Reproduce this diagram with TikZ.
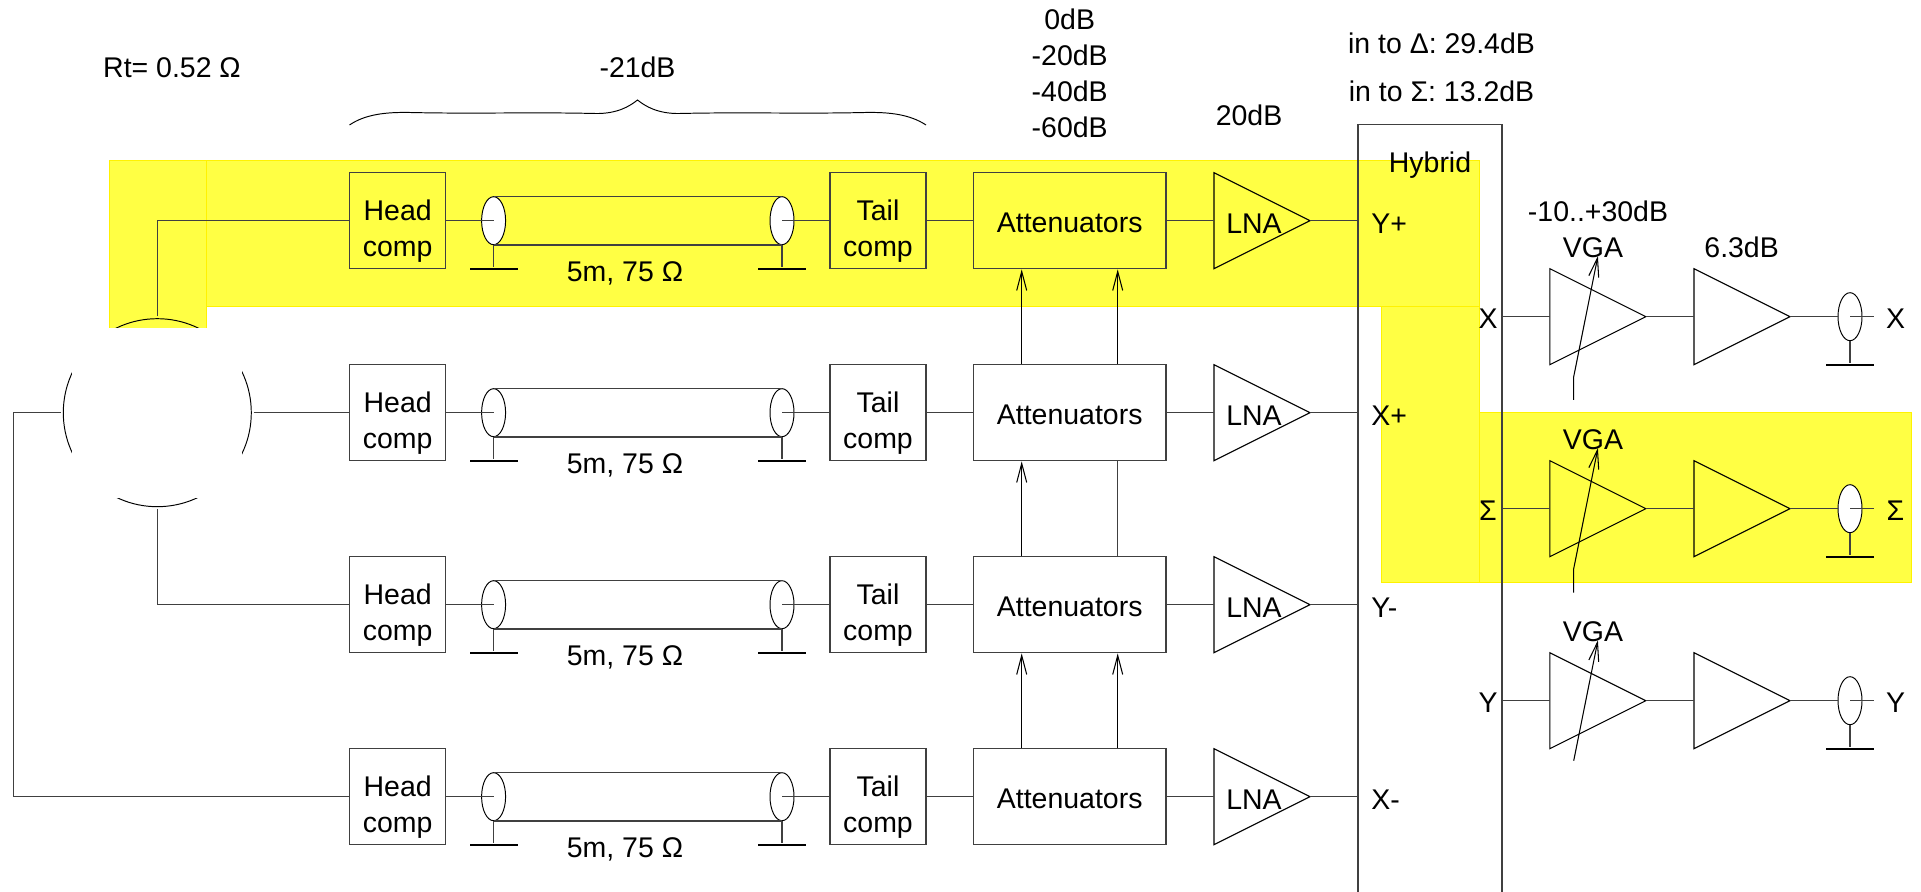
\documentclass[tikz,border=0pt]{standalone}
\usepackage{fontspec}
\setmainfont{Liberation Sans}
\usetikzlibrary{arrows.meta, shapes.geometric}
\definecolor{hlYellow}{HTML}{FFFF44}
\colorlet{lineGray}{black!75}
\tikzset{
    hlArea/.style={fill=hlYellow, draw=yellow, line width=0.2pt},
    wire/.style={draw=lineGray, line width=0.8pt},
    box/.style={
        draw=lineGray, line width=0.8pt, inner sep=0pt,
        minimum width=1.92cm, minimum height=1.92cm,
        font=\fontsize{16.2}{20.5}\selectfont
    },
    compBox/.style={box, align=center, text height=41pt, text depth=0pt},
    attBox/.style={box, minimum width=3.85cm, text height=13.2pt, text depth=0pt},
    amp/.style={
        draw, line width=0.6pt, inner sep=0pt, outer sep=0pt,
        isosceles triangle, isosceles triangle stretches,
        minimum width=1.92cm, minimum height=1.92cm
    },
    coaxEnd/.style={
        ellipse, draw, fill=white, line width=0.55pt, inner sep=0pt,
        minimum width=0.48cm, minimum height=0.96cm
    },
    gnd/.style={fill=black, inner sep=0pt, minimum width=0.96cm, minimum height=0.045cm},
    lab/.style={
        font=\fontsize{16.2}{20.5}\selectfont,
        inner sep=0pt, text height=11.6pt, text depth=0pt
    },
    arr/.style={-{Straight Barb[length=0.38cm, width=0.2cm]}, line width=0.6pt}
}
\begin{document}
\begin{tikzpicture}

\useasboundingbox (0, 0) rectangle (38.42, 17.84);

% ===== YELLOW HIGHLIGHT =====
\fill[hlArea] (2.18, 14.64) rectangle (4.12, 11.28);
\fill[hlArea] (4.12, 14.64) rectangle (29.58, 11.726);
\fill[hlArea] (27.63, 11.726) rectangle (29.58, 6.204);
\fill[hlArea] (29.58, 9.594) rectangle (38.22, 6.204);

% ===== TOP LABELS =====
\node[lab] (rtval) at (3.44, 16.5) {Rt= 0.52 Ω};
\node[lab] (lossval) at (12.75, 16.5) {-21dB};
\node[lab] (att0) at (21.394, 17.46) {0dB};
\node[lab] (att20) at (21.394, 16.74) {-20dB};
\node[lab] (att40) at (21.394, 16.02) {-40dB};
\node[lab] (att60) at (21.394, 15.3) {-60dB};
\node[lab] (lnagain) at (24.98, 15.54) {20dB};
\node[lab] (indelta) at (28.83, 16.98) {in to Δ: 29.4dB};
\node[lab] (insigma) at (28.83, 16.02) {in to Σ: 13.2dB};

% brace over the cable
\draw[line width=0.55pt] (6.99, 15.34)
  .. controls (7.3, 15.55) and (7.7, 15.6) .. (8.2, 15.59)
  .. controls (9.5, 15.56) and (10.6, 15.6) .. (11.9, 15.57)
  .. controls (12.35, 15.56) and (12.6, 15.72) .. (12.75, 15.84)
  .. controls (12.9, 15.72) and (13.15, 15.56) .. (13.6, 15.57)
  .. controls (14.9, 15.6) and (16.0, 15.56) .. (17.3, 15.59)
  .. controls (17.8, 15.6) and (18.2, 15.55) .. (18.52, 15.34);

% ===== SPLITTER =====
\node[circle, draw, line width=0.55pt, inner sep=0pt, minimum size=3.76cm] (rt) at (3.146, 9.586) {};
\node[fill=white, inner sep=0pt, minimum size=3.4cm] (rtmask) at (3.146, 9.58) {};
\coordinate (rtleft) at (0.266, 9.586);

% ===== ROW 1: Y+ =====
\node[compBox] (head1) at (7.954, 13.426) {Head\\comp};
\node[coaxEnd] (coaxl1) at (9.872, 13.426) {};
\node[coaxEnd] (coaxr1) at (15.64, 13.426) {};
\node[gnd] (gndl1) at (9.872, 12.466) {};
\node[gnd] (gndr1) at (15.64, 12.466) {};
\node[lab] (cable1) at (12.5, 12.42) {5m, 75 Ω};
\node[compBox] (tail1) at (17.56, 13.426) {Tail\\comp};
\node[attBox] (att1) at (21.394, 13.426) {Attenuators};
\node[amp, anchor=apex] (lna1) at (26.2, 13.426) {};
\node[lab] (lnalab1) at (25.08, 13.38) {LNA};
\node[lab, anchor=west] (port1) at (27.42, 13.38) {Y+};

% ===== ROW 2: X+ =====
\node[compBox] (head2) at (7.954, 9.586) {Head\\comp};
\node[coaxEnd] (coaxl2) at (9.872, 9.586) {};
\node[coaxEnd] (coaxr2) at (15.64, 9.586) {};
\node[gnd] (gndl2) at (9.872, 8.626) {};
\node[gnd] (gndr2) at (15.64, 8.626) {};
\node[lab] (cable2) at (12.5, 8.58) {5m, 75 Ω};
\node[compBox] (tail2) at (17.56, 9.586) {Tail\\comp};
\node[attBox] (att2) at (21.394, 9.586) {Attenuators};
\node[amp, anchor=apex] (lna2) at (26.2, 9.586) {};
\node[lab] (lnalab2) at (25.08, 9.54) {LNA};
\node[lab, anchor=west] (port2) at (27.42, 9.54) {X+};

% ===== ROW 3: Y- =====
\node[compBox] (head3) at (7.954, 5.746) {Head\\comp};
\node[coaxEnd] (coaxl3) at (9.872, 5.746) {};
\node[coaxEnd] (coaxr3) at (15.64, 5.746) {};
\node[gnd] (gndl3) at (9.872, 4.786) {};
\node[gnd] (gndr3) at (15.64, 4.786) {};
\node[lab] (cable3) at (12.5, 4.74) {5m, 75 Ω};
\node[compBox] (tail3) at (17.56, 5.746) {Tail\\comp};
\node[attBox] (att3) at (21.394, 5.746) {Attenuators};
\node[amp, anchor=apex] (lna3) at (26.2, 5.746) {};
\node[lab] (lnalab3) at (25.08, 5.7) {LNA};
\node[lab, anchor=west] (port3) at (27.42, 5.7) {Y-};

% ===== ROW 4: X- =====
\node[compBox] (head4) at (7.954, 1.906) {Head\\comp};
\node[coaxEnd] (coaxl4) at (9.872, 1.906) {};
\node[coaxEnd] (coaxr4) at (15.64, 1.906) {};
\node[gnd] (gndl4) at (9.872, 0.946) {};
\node[gnd] (gndr4) at (15.64, 0.946) {};
\node[lab] (cable4) at (12.5, 0.9) {5m, 75 Ω};
\node[compBox] (tail4) at (17.56, 1.906) {Tail\\comp};
\node[attBox] (att4) at (21.394, 1.906) {Attenuators};
\node[amp, anchor=apex] (lna4) at (26.2, 1.906) {};
\node[lab] (lnalab4) at (25.08, 1.86) {LNA};
\node[lab, anchor=west] (port4) at (27.42, 1.86) {X-};

% hybrid runs off the bottom of the page
\node[draw=lineGray, line width=0.8pt, minimum width=2.874cm, minimum height=15.55cm] (hyb) at (28.6, 7.573) {};
\node[lab] (hyblab) at (28.6, 14.59) {Hybrid};

% connectors, left part
\draw[wire, shorten <=1pt] (rt.north) |- (head1.west);
\draw[wire, shorten <=1pt] (rt.east) -- (head2.west);
\draw[wire, shorten <=1pt] (rt.south) |- (head3.west);
\draw[wire, shorten <=1pt] (rt.west) -- (rtleft) |- (head4.west);

\draw[wire] (head1.east) -- (coaxl1.center);
\draw[wire] (coaxl1.north) -- (coaxr1.north);
\draw[wire] (coaxl1.south) -- (coaxr1.south);
\draw[wire] (coaxr1.center) -- (tail1.west);
\draw[wire] (coaxl1.south) -- (gndl1);
\draw[wire] (coaxr1.south) -- (gndr1);
\draw[wire] (tail1) -- (att1);
\draw[wire] (att1) -- (lna1.lower side);
\draw[wire] (lna1.apex) -- (lna1.apex -| hyb.west);

\draw[wire] (head2.east) -- (coaxl2.center);
\draw[wire] (coaxl2.north) -- (coaxr2.north);
\draw[wire] (coaxl2.south) -- (coaxr2.south);
\draw[wire] (coaxr2.center) -- (tail2.west);
\draw[wire] (coaxl2.south) -- (gndl2);
\draw[wire] (coaxr2.south) -- (gndr2);
\draw[wire] (tail2) -- (att2);
\draw[wire] (att2) -- (lna2.lower side);
\draw[wire] (lna2.apex) -- (lna2.apex -| hyb.west);

\draw[wire] (head3.east) -- (coaxl3.center);
\draw[wire] (coaxl3.north) -- (coaxr3.north);
\draw[wire] (coaxl3.south) -- (coaxr3.south);
\draw[wire] (coaxr3.center) -- (tail3.west);
\draw[wire] (coaxl3.south) -- (gndl3);
\draw[wire] (coaxr3.south) -- (gndr3);
\draw[wire] (tail3) -- (att3);
\draw[wire] (att3) -- (lna3.lower side);
\draw[wire] (lna3.apex) -- (lna3.apex -| hyb.west);

\draw[wire] (head4.east) -- (coaxl4.center);
\draw[wire] (coaxl4.north) -- (coaxr4.north);
\draw[wire] (coaxl4.south) -- (coaxr4.south);
\draw[wire] (coaxr4.center) -- (tail4.west);
\draw[wire] (coaxl4.south) -- (gndl4);
\draw[wire] (coaxr4.south) -- (gndr4);
\draw[wire] (tail4) -- (att4);
\draw[wire] (att4) -- (lna4.lower side);
\draw[wire] (lna4.apex) -- (lna4.apex -| hyb.west);

% attenuator controls
\draw[arr] ([xshift=-0.96cm]att2.north) -- ([xshift=-0.96cm]att1.south);
\draw[arr] ([xshift=0.96cm]att2.north) -- ([xshift=0.96cm]att1.south);
\draw[arr] ([xshift=-0.96cm]att3.north) -- ([xshift=-0.96cm]att2.south);
\draw[wire] ([xshift=0.96cm]att3.north) -- ([xshift=0.96cm]att2.south);
\draw[arr] ([xshift=-0.96cm]att4.north) -- ([xshift=-0.96cm]att3.south);
\draw[arr] ([xshift=0.96cm]att4.north) -- ([xshift=0.96cm]att3.south);

% ===== RIGHT: output chains =====
\node[lab] (gainrange) at (31.96, 13.62) {-10..+30dB};
\node[lab] (gainfix) at (34.832, 12.886) {6.3dB};

\node[lab] (inX) at (29.76, 11.466) {X};
\node[amp, anchor=apex] (vga1) at (32.916, 11.506) {};
\node[lab] (vgalab1) at (31.86, 12.886) {VGA};
\node[amp, anchor=apex] (drv1) at (35.8, 11.506) {};
\node[coaxEnd] (out1) at (37.0, 11.506) {};
\node[gnd] (gndo1) at (37.0, 10.546) {};
\coordinate (stub1) at (37.48, 11.506);
\node[lab] (outX) at (37.91, 11.466) {X};

\node[lab] (inS) at (29.76, 7.626) {Σ};
\node[amp, anchor=apex] (vga2) at (32.916, 7.666) {};
\node[lab] (vgalab2) at (31.86, 9.054) {VGA};
\node[amp, anchor=apex] (drv2) at (35.8, 7.666) {};
\node[coaxEnd] (out2) at (37.0, 7.666) {};
\node[gnd] (gndo2) at (37.0, 6.706) {};
\coordinate (stub2) at (37.48, 7.666);
\node[lab] (outS) at (37.91, 7.626) {Σ};

\node[lab] (inY) at (29.76, 3.786) {Y};
\node[amp, anchor=apex] (vga3) at (32.916, 3.826) {};
\node[lab] (vgalab3) at (31.86, 5.22) {VGA};
\node[amp, anchor=apex] (drv3) at (35.8, 3.826) {};
\node[coaxEnd] (out3) at (37.0, 3.826) {};
\node[gnd] (gndo3) at (37.0, 2.866) {};
\coordinate (stub3) at (37.48, 3.826);
\node[lab] (outY) at (37.91, 3.786) {Y};

\draw[wire] (vga1.lower side -| hyb.east) -- (vga1.lower side);
\draw[wire] (vga1.apex) -- (drv1.lower side);
\draw[wire] (drv1.apex) -- (out1.west);
\draw[wire] (out1.center) -- (stub1);
\draw[wire] (out1.south) -- (gndo1);

\draw[wire] (vga2.lower side -| hyb.east) -- (vga2.lower side);
\draw[wire] (vga2.apex) -- (drv2.lower side);
\draw[wire] (drv2.apex) -- (out2.west);
\draw[wire] (out2.center) -- (stub2);
\draw[wire] (out2.south) -- (gndo2);

\draw[wire] (vga3.lower side -| hyb.east) -- (vga3.lower side);
\draw[wire] (vga3.apex) -- (drv3.lower side);
\draw[wire] (drv3.apex) -- (out3.west);
\draw[wire] (out3.center) -- (stub3);
\draw[wire] (out3.south) -- (gndo3);

% gain control arrows
\coordinate (ctlA1) at (31.474, 9.84);
\coordinate (ctlB1) at (31.474, 10.306);
\coordinate (ctlC1) at (31.958, 12.72);
\coordinate (ctlA2) at (31.474, 5.986);
\coordinate (ctlB2) at (31.474, 6.466);
\coordinate (ctlC2) at (31.958, 8.88);
\coordinate (ctlB3) at (31.474, 2.626);
\coordinate (ctlC3) at (31.958, 5.034);

\draw[arr] (ctlA1) -- (ctlB1) -- (ctlC1);
\draw[arr] (ctlA2) -- (ctlB2) -- (ctlC2);
\draw[arr] (ctlB3) -- (ctlC3);

\end{tikzpicture}
\end{document}
